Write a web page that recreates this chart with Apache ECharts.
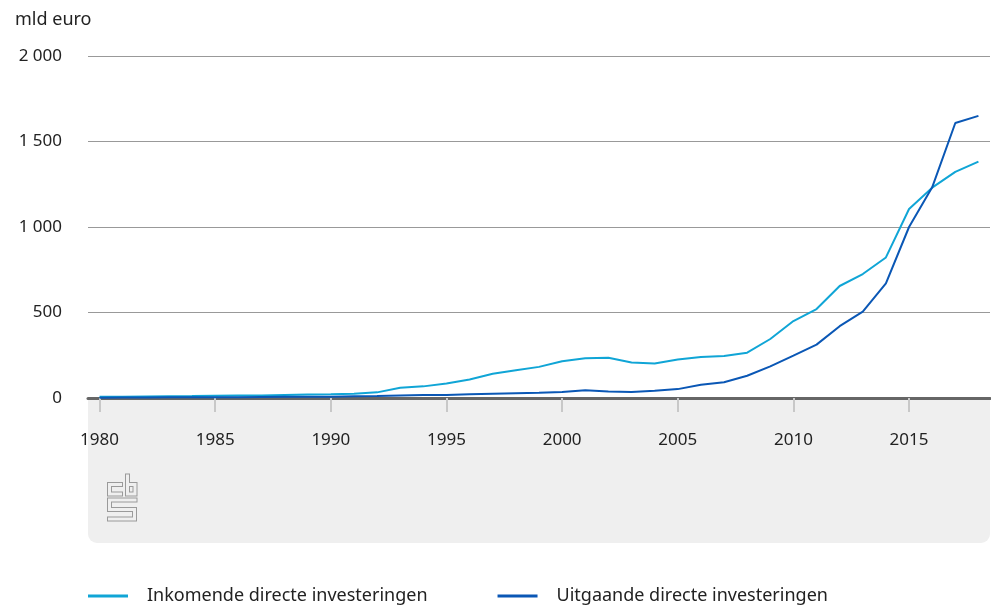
<!DOCTYPE html>
<html>
<head>
<meta charset="utf-8">
<script src="https://cdn.jsdelivr.net/npm/echarts@6/dist/echarts.min.js"></script>
<style>
  html, body { margin: 0; padding: 0; background: #fff; }
  #main { width: 991px; height: 608px; }
</style>
</head>
<body>
<div id="main"></div>
<script>
// jaren 1980 - 2018
var years = [];
for (var y = 1980; y <= 2018; y++) years.push(String(y));

// mld euro
var inkomend = [8, 8, 9, 10, 11, 13, 14, 15, 18, 20, 22, 25, 33, 60, 68, 85, 108, 142, 162, 182,
  215, 233, 235, 207, 202, 225, 240, 245, 265, 345, 450, 520, 655, 725, 822, 1105, 1230, 1322, 1382];
var uitgaand = [2, 3, 3, 4, 4, 5, 5, 6, 7, 7, 8, 10, 12, 15, 17, 18, 22, 25, 28, 30,
  35, 45, 38, 35, 42, 52, 78, 92, 130, 185, 248, 312, 420, 505, 670, 1000, 1232, 1608, 1650];

var seriesNames = ['Inkomende directe investeringen', 'Uitgaande directe investeringen'];
var colors = ['#10a5d6', '#0a57b5'];

var chart = echarts.init(document.getElementById('main'));

var bandColor = '#efefef';

var option = {
  animation: false,
  textStyle: { fontFamily: 'Noto Sans' },
  title: {
    text: 'mld euro',
    left: 10,
    top: 6,
    textStyle: { fontSize: 18, fontWeight: 'normal', color: '#222' }
  },
  color: colors,
  grid: { left: 88, right: 1, top: 56, bottom: 210 },
  legend: {
    left: 83,
    top: 582,
    icon: 'rect',
    itemWidth: 40,
    itemHeight: 3,
    itemGap: 70,
    textStyle: { fontSize: 18, color: '#222', padding: [0, 0, 0, 14] },
    data: seriesNames
  },
  graphic: [
    {
      type: 'rect',
      z: -1,
      shape: { x: 88, y: 397, width: 902, height: 146, r: [0, 0, 9, 9] },
      style: { fill: bandColor }
    },
    // cbs logo (dikke grijze lijn met lichte binnenlijn)
    {
      type: 'group',
      z: 10,
      children: [
        { type: 'polyline', shape: { points: [[123, 484.5], [109.5, 484.5], [109.5, 494], [123, 494]] },
          style: { stroke: '#9a9a9a', lineWidth: 5, fill: null } },
        { type: 'polyline', shape: { points: [[122, 484.5], [109.5, 484.5], [109.5, 494], [122, 494]] },
          style: { stroke: bandColor, lineWidth: 3, fill: null } },
        { type: 'polyline', shape: { points: [[127.5, 473.5], [127.5, 494], [135, 494], [135, 484.5], [127.5, 484.5]] },
          style: { stroke: '#9a9a9a', lineWidth: 5, fill: null } },
        { type: 'polyline', shape: { points: [[127.5, 474.5], [127.5, 494], [135, 494], [135, 484.5], [127.5, 484.5]] },
          style: { stroke: bandColor, lineWidth: 3, fill: null } },
        { type: 'polyline', shape: { points: [[137.5, 500], [109.5, 500], [109.5, 509.5], [134.5, 509.5], [134.5, 519], [107, 519]] },
          style: { stroke: '#9a9a9a', lineWidth: 5, fill: null } },
        { type: 'polyline', shape: { points: [[136.5, 500], [109.5, 500], [109.5, 509.5], [134.5, 509.5], [134.5, 519], [108, 519]] },
          style: { stroke: bandColor, lineWidth: 3, fill: null } }
      ]
    }
  ],
  xAxis: {
    type: 'category',
    data: years,
    boundaryGap: true,
    axisLine: { show: true, lineStyle: { color: '#666', width: 3 } },
    axisTick: { show: true, interval: 4, alignWithLabel: true, length: 14, lineStyle: { color: '#c8c8c8', width: 2 } },
    axisLabel: { interval: 4, margin: 34, fontSize: 17, color: '#222' },
    splitLine: { show: false }
  },
  yAxis: {
    type: 'value',
    min: 0,
    max: 2000,
    interval: 500,
    axisLine: { show: false },
    axisTick: { show: false },
    axisLabel: {
      margin: 26,
      fontSize: 17,
      color: '#222',
      formatter: function (v) { return String(v).replace(/\B(?=(\d{3})+(?!\d))/g, ' '); }
    },
    splitLine: { lineStyle: { color: '#999', width: 1 } }
  },
  series: [
    {
      name: seriesNames[0],
      type: 'line',
      data: inkomend,
      symbol: 'none',
      lineStyle: { width: 2, color: colors[0] },
      z: 3
    },
    {
      name: seriesNames[1],
      type: 'line',
      data: uitgaand,
      symbol: 'none',
      lineStyle: { width: 2, color: colors[1] },
      z: 4
    }
  ]
};

chart.setOption(option);
</script>
</body>
</html>
